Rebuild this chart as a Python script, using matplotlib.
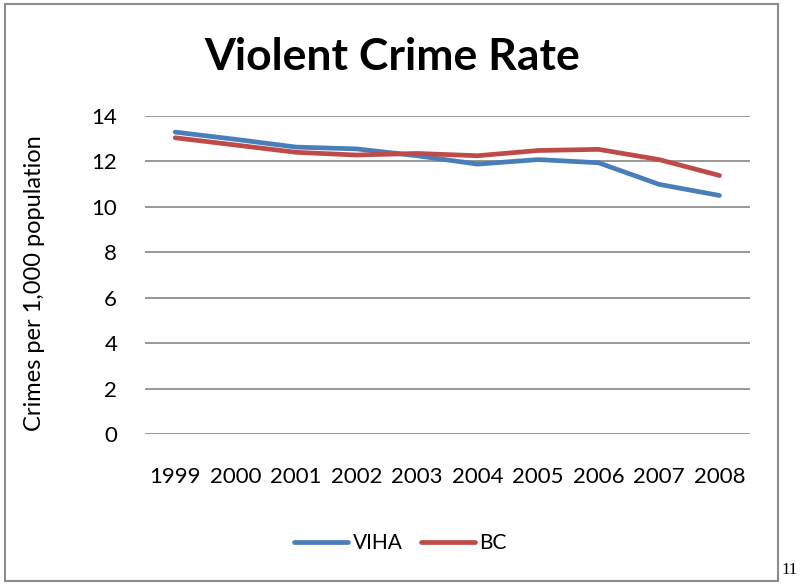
import matplotlib.pyplot as plt
from matplotlib.patches import Rectangle

# Violent crime rate, crimes per 1,000 population
years = ["1999", "2000", "2001", "2002", "2003", "2004", "2005", "2006", "2007", "2008"]
viha = [13.29, 12.97, 12.63, 12.55, 12.25, 11.88, 12.08, 11.94, 10.99, 10.50]
bc = [13.04, 12.72, 12.40, 12.28, 12.35, 12.25, 12.48, 12.53, 12.08, 11.38]

plt.rcParams['font.family'] = ['Lato', 'DejaVu Sans']

fig = plt.figure(figsize=(8.01, 5.86), dpi=100)
ax = fig.add_axes([0.181, 0.2594, 0.755, 0.5427])

x = range(len(years))
ax.plot(x, viha, color='#4A7EBB', linewidth=3.4, solid_capstyle='round', label='VIHA')
ax.plot(x, bc, color='#BE4B48', linewidth=3.4, solid_capstyle='round', label='BC')

ax.set_xlim(-0.5, len(years) - 0.5)
ax.set_ylim(0, 14)
ax.set_yticks(range(0, 15, 2))
ax.set_xticks(list(x))
ax.set_xticklabels(years)
ax.yaxis.grid(True, color='#868686', linewidth=1.2)
ax.set_axisbelow(True)
for s in ax.spines.values():
    s.set_visible(False)
ax.tick_params(axis='y', length=0, pad=20, labelsize=16)
ax.tick_params(axis='x', length=0, pad=24, labelsize=16)
ax.set_ylabel('Crimes per 1,000 population', fontsize=17)
ax.yaxis.set_label_coords(-0.165, 0.475)

fig.text(0.49, 0.902, 'Violent Crime Rate', ha='center', va='center',
         fontsize=32, fontweight='bold')

fig.legend(loc='center', bbox_to_anchor=(0.5, 0.073), ncol=2, frameon=False,
           fontsize=15, handlelength=2.6, handletextpad=0.2, columnspacing=0.9)

# chart border and page number
fig.patches.append(Rectangle((5 / 801, 1 - 581 / 586), 773 / 801, 577 / 586,
                             transform=fig.transFigure, fill=False,
                             edgecolor='#8C8C8C', linewidth=1.5))
fig.text(781 / 801, 1 - 570 / 586, '11', ha='left', va='center', fontsize=12,
         family='Liberation Serif')

fig.savefig('out.png', dpi=100)
